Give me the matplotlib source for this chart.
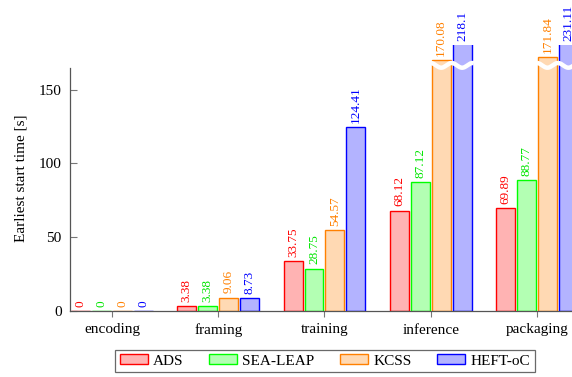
import numpy as np
import matplotlib
matplotlib.use("Agg")
import matplotlib.pyplot as plt
from matplotlib.patches import Patch

plt.rcParams['font.family'] = ['Liberation Serif', 'DejaVu Serif']

stages = ["encoding", "framing", "training", "inference", "packaging"]
series = ["ADS", "SEA-LEAP", "KCSS", "HEFT-oC"]
ads = [0, 3.38, 33.75, 68.12, 69.89]
sea_leap = [0, 3.38, 28.75, 87.12, 88.77]
kcss = [0, 9.06, 54.57, 170.08, 171.84]
heft_oc = [0, 8.73, 124.41, 218.1, 231.11]
values = [ads, sea_leap, kcss, heft_oc]

face_colors = ["#ffb3b3", "#b3ffb3", "#ffd9b3", "#b3b3ff"]
edge_colors = ["#ff0000", "#00ff00", "#ff8000", "#0000ff"]
text_colors = ["#ff0000", "#00e600", "#ff8000", "#0000ff"]

yticks = [0, 50, 100, 150]
ymax = 180
axis_top = 164.7

W, H = 572, 377
fig = plt.figure(figsize=(W / 100, H / 100), dpi=100)
left_px, right_px = 70, 572
bottom_px = 311
top_px = bottom_px - ymax * (221.3 / 150)
ax = fig.add_axes([left_px / W, (H - bottom_px) / H,
                   (right_px - left_px) / W, (bottom_px - top_px) / H])

unit = 106.3
x = np.arange(len(stages))
bar_w = 19 / unit
step = 21 / unit
offsets = (np.arange(4) - 1.5) * step

for i, vals in enumerate(values):
    xs = x + offsets[i]
    ax.bar(xs, vals, width=bar_w, color=face_colors[i],
           edgecolor=edge_colors[i], linewidth=1.0, zorder=2)
    for xi, v in zip(xs, vals):
        ax.annotate(f"{v:g}", xy=(xi, min(v, ymax)), xytext=(0, 3),
                    textcoords="offset points", rotation=90,
                    ha="center", va="bottom", fontsize=9.5,
                    color=text_colors[i], annotation_clip=False)

# wavy white break across bars that exceed the axis range
for gi in (3, 4):
    x0 = gi + offsets[2] - bar_w / 2 - 0.01
    x1 = gi + offsets[3] + bar_w / 2 + 0.02
    wx = np.linspace(x0, x1, 200)
    wy = 166.5 + 1.6 * np.sin((wx - x0) / step * 2 * np.pi + np.pi / 2)
    ax.plot(wx, wy, color="white", lw=3.2, solid_capstyle="butt",
            zorder=5, clip_on=False)

ax.set_xlim(-42 / unit, 4 + (572 - 537) / unit)
ax.set_ylim(0, ymax)
ax.set_xticks(x)
ax.set_xticklabels(stages, fontsize=11)
ax.set_yticks(yticks)
ax.set_yticklabels([str(t) for t in yticks], fontsize=11)
ax.set_ylabel("Earliest start time [s]", fontsize=11, labelpad=8)

for s in ("top", "right"):
    ax.spines[s].set_visible(False)
for s in ("left", "bottom"):
    ax.spines[s].set_color("#555555")
    ax.spines[s].set_linewidth(0.9)
    ax.spines[s].set_zorder(6)
ax.spines["left"].set_bounds(0, axis_top)
ax.tick_params(axis="y", direction="in", length=5, color="#777777", pad=6)
ax.tick_params(axis="x", direction="out", length=4, color="#777777", pad=5)

handles = [Patch(facecolor=face_colors[i], edgecolor=edge_colors[i], linewidth=1.0)
           for i in range(4)]
leg = fig.legend(handles, series, loc="center", ncol=4,
                 bbox_to_anchor=(325 / W, (H - 361) / H), fontsize=11,
                 frameon=True, fancybox=False, edgecolor="#444444",
                 handlelength=1.8, handleheight=0.55, handletextpad=0.35,
                 columnspacing=1.7, borderpad=0.3, borderaxespad=0)
leg.get_frame().set_linewidth(0.9)

fig.savefig("out.png", dpi=100)
